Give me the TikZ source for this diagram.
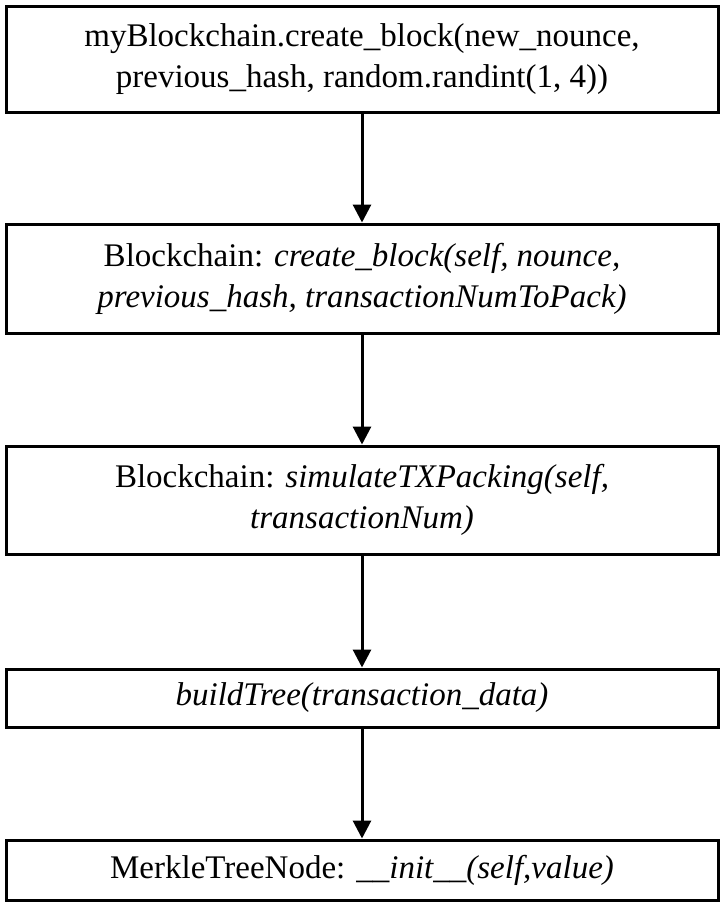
\documentclass[tikz,border=0pt]{standalone}
\usepackage{fontspec}
\setmainfont{Liberation Serif}
\usetikzlibrary{arrows.meta}
\begin{document}
\begin{tikzpicture}[x=1pt,y=1pt,line width=3pt,>={Triangle[length=18pt,width=18pt]},font=\fontsize{33}{41}\selectfont]
			\tikzset{callbox/.style={draw,rectangle,minimum width=712pt,align=center,inner sep=0pt}}
			\useasboundingbox (0,0) rectangle (722,-906);
			\node[callbox,minimum height=106pt] (create) at (362,-59)
			{myBlockchain.create\_block(new\_nounce,\\previous\_hash, random.randint(1, 4))};
			\node[callbox,minimum height=109pt] (chain) at (362,-278.5)
			{Blockchain: \textit{create\_block(self, nounce,}\\\textit{previous\_hash, transactionNumToPack)}};
			\node[callbox,minimum height=108pt] (pack) at (362,-500)
			{Blockchain: \textit{simulateTXPacking(self,}\\\textit{transactionNum)}};
			\node[callbox,minimum height=58pt] (tree) at (362,-698)
			{\textit{buildTree(transaction\_data)}};
			\node[callbox,minimum height=60pt] (merkle) at (362,-870)
			{MerkleTreeNode: \textit{\_\_init\_\_(self,value)}};
			\draw[->] (create)--(chain);
			\draw[->] (chain)--(pack);
			\draw[->] (pack)--(tree);
			\draw[->] (tree)--(merkle);
		\end{tikzpicture}
\end{document}
